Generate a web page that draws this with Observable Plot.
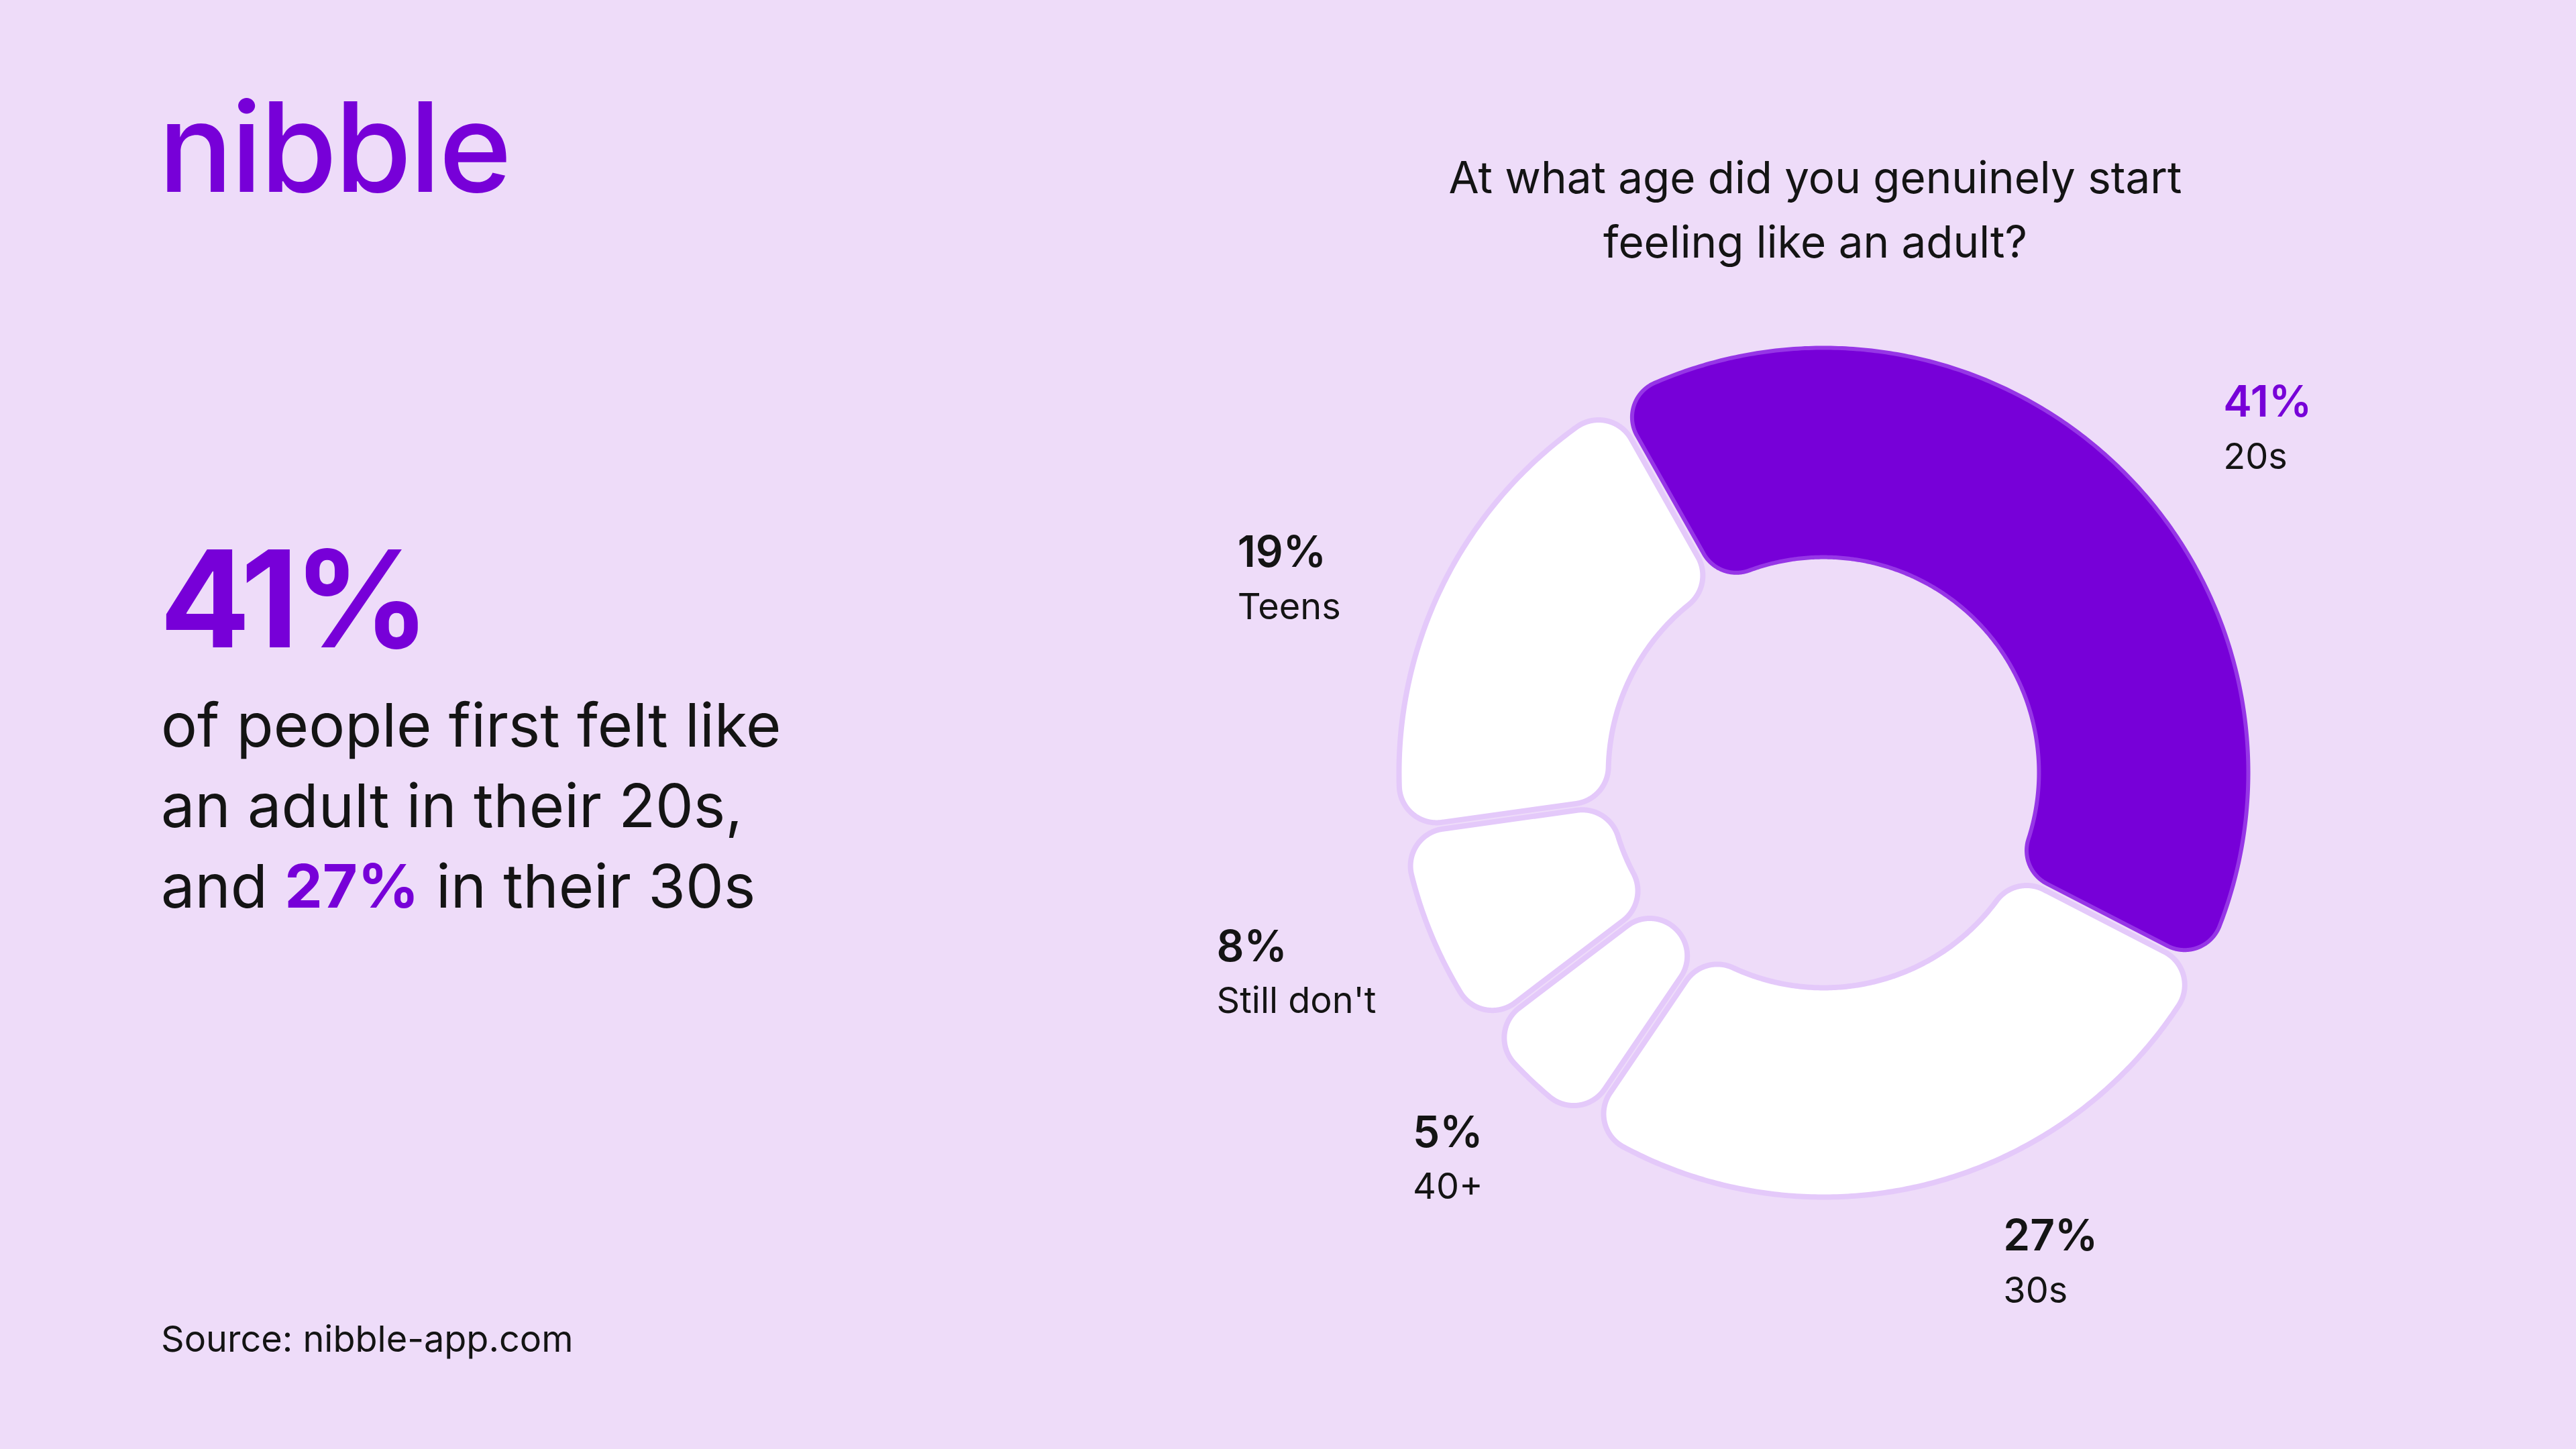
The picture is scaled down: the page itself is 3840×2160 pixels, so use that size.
<!DOCTYPE html>
<html>
<head>
<meta charset="utf-8">
<script src="https://cdn.jsdelivr.net/npm/d3@7"></script>
<script src="https://cdn.jsdelivr.net/npm/@observablehq/plot@0.6"></script>
<style>
  html, body { margin: 0; padding: 0; background: #EEDCF9; }
  body { width: 3840px; height: 2160px; position: relative; overflow: hidden;
         font-family: Inter, "Noto Sans", sans-serif; color: #141414; }
  .abs { position: absolute; white-space: nowrap; }
  .logo { left: 236px; top: 127px; font-size: 185px; line-height: 1; font-weight: 500;
          color: #7700D8; letter-spacing: -3px; }
  .big { left: 238px; top: 792px; font-size: 200px; line-height: 1; font-weight: 700;
         color: #7700D8; letter-spacing: -7px; }
  .body { left: 240px; top: 1021px; font-size: 90px; line-height: 120px; font-weight: 400; }
  .body b { color: #7700D8; font-weight: 700; }
  .title { left: 2706px; top: 217px; transform: translateX(-50%); text-align: center;
           font-size: 65.5px; line-height: 96px; font-weight: 400; }
  .source { left: 240px; top: 1969px; font-size: 54px; line-height: 1; }
  #chart { left: 1700px; top: 400px; }
</style>
</head>
<body>
<div class="abs logo">nibble</div>
<div class="abs big">41%</div>
<div class="abs body">of people first felt like<br>an adult in their 20s,<br>and <b>27%</b> in their 30s</div>
<div class="abs title">At what age did you genuinely start<br>feeling like an adult?</div>
<div class="abs source">Source: nibble-app.com</div>
<div class="abs" id="chart"></div>
<script>
// Survey answers, in clockwise order starting with the highlighted slice
const categories = ["20s", "30s", "40+", "Still don't", "Teens"];
const shares = [41, 27, 5, 8, 19];
const highlighted = "20s";

// Layout of the donut (pixels inside the SVG)
const W = 2040, H = 1640;
const cx = 1018, cy = 751, R = 633;
const innerRatio = 0.507;
const cornerRatio = 0.088;
const startDeg = -29.5;
const purple = "#7700D8";

// Manual label placement: angle nudge (deg) from the slice's mid-angle and radius in units of R
const labelPlacement = {
  "20s": [5.5, 1.24],
  "30s": [-5.8, 1.232],
  "40+": [3.2, 1.33],
  "Still don't": [4.2, 1.5065],
  "Teens": [-8.1, 1.453]
};

const rad = Math.PI / 180;
const slices = d3.pie().sort(null).value(d => d.share)
  .startAngle(startDeg * rad).endAngle(startDeg * rad + 2 * Math.PI)
  .padAngle(0.014)(categories.map((c, i) => ({cat: c, share: shares[i]})));

// A canvas-like context that turns d3.arc output into sampled outline points
function outline() {
  const pts = [];
  const tau = 2 * Math.PI;
  return {
    pts,
    moveTo(x, y) { pts.push([x, y]); },
    lineTo(x, y) { pts.push([x, y]); },
    arc(x, y, r, a0, a1, ccw) {
      let da = a1 - a0;
      if (!ccw && da < -1e-9) da = (da % tau + tau) % tau;
      if (ccw && da > 1e-9) da = -((-da % tau + tau) % tau);
      const n = Math.max(2, Math.ceil(Math.abs(da) / (0.5 * rad)));
      for (let i = 0; i <= n; i++) {
        const a = a0 + da * i / n;
        pts.push([x + r * Math.cos(a), y + r * Math.sin(a)]);
      }
    },
    closePath() { if (pts.length) pts.push(pts[0]); }
  };
}

const arcGen = d3.arc().innerRadius(innerRatio).outerRadius(1).cornerRadius(cornerRatio);
const rows = [];
for (const s of slices) {
  const ctx = outline();
  arcGen.context(ctx)(s);
  ctx.pts.forEach(([x, y], i) => rows.push({cat: s.data.cat, x, y, i}));
}

const labels = slices.map(s => {
  const [nudge, r] = labelPlacement[s.data.cat];
  const a = (s.startAngle + s.endAngle) / 2 + nudge * rad;
  return {cat: s.data.cat, share: s.data.share, x: r * Math.sin(a), y: -r * Math.cos(a)};
});

const chart = Plot.plot({
  width: W,
  height: H,
  margin: 0,
  style: {background: "transparent", fontFamily: "Inter, 'Noto Sans', sans-serif", overflow: "visible"},
  x: {domain: [-1, 1], range: [cx - R, cx + R], axis: null},
  y: {domain: [-1, 1], range: [cy - R, cy + R], axis: null},
  marks: [
    Plot.line(rows.filter(d => d.cat !== highlighted), {
      x: "x", y: "y", z: "cat", fill: "#FFFFFF", stroke: "#E4C9FA",
      strokeWidth: 8, strokeLinejoin: "round", curve: "linear"
    }),
    Plot.line(rows.filter(d => d.cat === highlighted), {
      x: "x", y: "y", z: "cat", fill: purple, stroke: "#9636E6",
      strokeWidth: 6, strokeLinejoin: "round", curve: "linear"
    }),
    Plot.text(labels, {
      x: "x", y: "y", text: d => `${d.share}%`, textAnchor: "start", dy: -40,
      fontSize: 64, fontWeight: 600,
      fill: d => d.cat === highlighted ? purple : "#141414"
    }),
    Plot.text(labels, {
      x: "x", y: "y", text: "cat", textAnchor: "start", dy: 41,
      fontSize: 54, fontWeight: 400, fill: "#141414"
    })
  ]
});
document.getElementById("chart").appendChild(chart);
</script>
</body>
</html>
